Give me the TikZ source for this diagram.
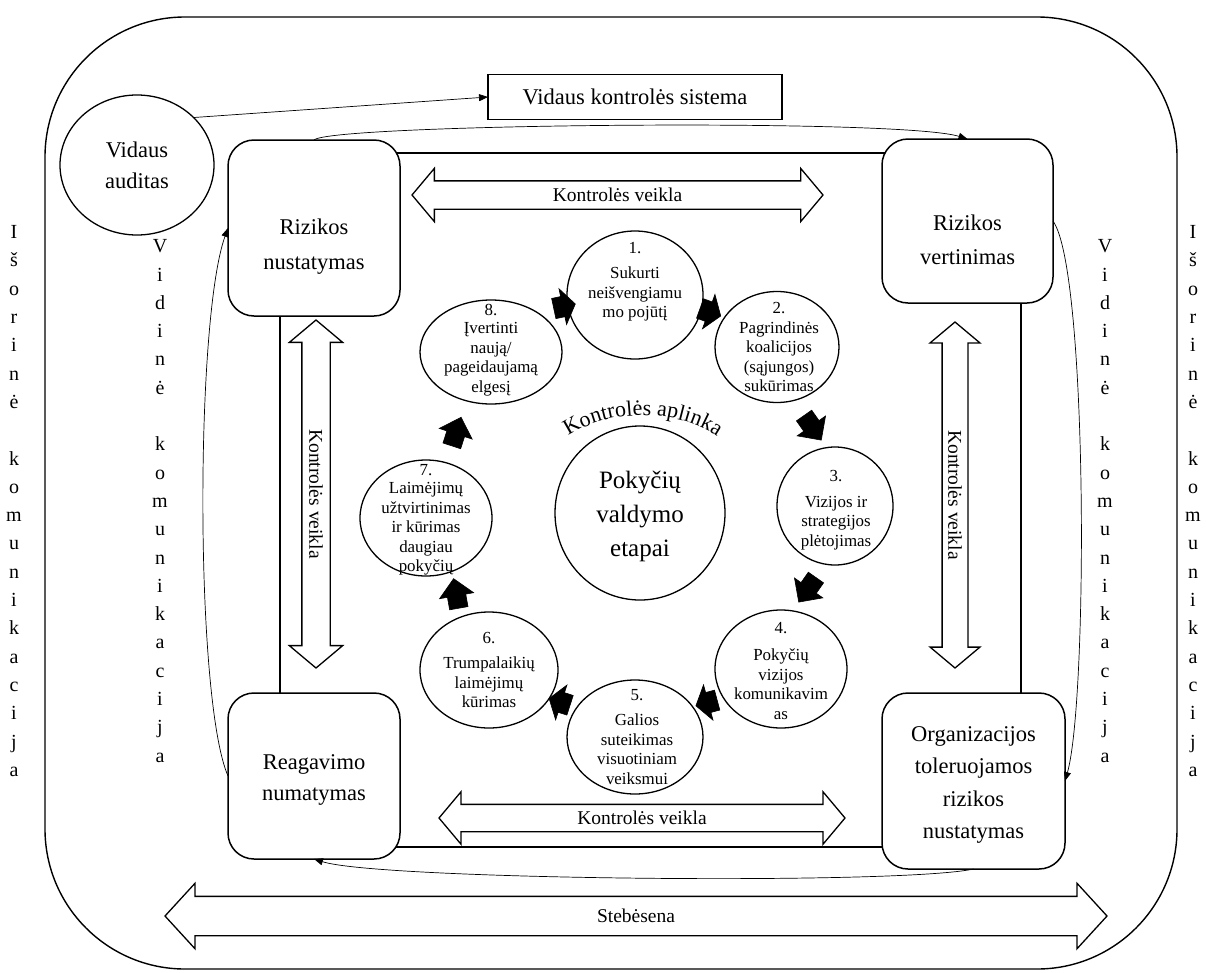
\documentclass[tikz,border=0pt]{standalone}
\usepackage{fontspec}
\setmainfont{Liberation Serif}
\usetikzlibrary{shapes.geometric,shapes.arrows,arrows.meta,decorations.text}

\begin{document}
\begin{tikzpicture}[x=1pt, y=-1pt,
  every node/.style={inner sep=0pt, outer sep=0pt},
  frame/.style={line width=1.4pt},
  riskbox/.style={draw, line width=1.5pt, rounded corners=26pt, fill=white},
  boxtext/.style={align=center, font=\fontsize{22.5}{31}\selectfont},
  stage/.style={draw, ellipse, line width=1.3pt, fill=white},
  stagetext/.style={align=center, font=\fontsize{16.9}{19.5}\selectfont},
  flowlong/.style={single arrow, draw=black, fill=black, line width=0.6pt,
    inner xsep=0pt, inner ysep=9pt, minimum height=30pt,
    single arrow head extend=8pt, single arrow tip angle=90},
  flowshort/.style={single arrow, draw=black, fill=black, line width=0.6pt,
    inner xsep=0pt, inner ysep=10pt, minimum height=22pt,
    single arrow head extend=8pt, single arrow tip angle=110},
  twoway/.style={double arrow, draw, line width=1.3pt, fill=white,
    text height=13.5pt, text depth=0pt, inner xsep=0pt, inner ysep=6.75pt,
    double arrow head extend=12.5pt, double arrow tip angle=100,
    font=\fontsize{19.5}{22}\selectfont},
  link/.style={line width=0.7pt, -{Triangle[length=9pt,width=7pt]}},
  column/.style={align=center, font=\fontsize{20}{28.3}\selectfont},
]
\useasboundingbox (0,0) rectangle (1206,972);

% outer frame and the frame joining the four risk boxes
\draw[frame, rounded corners=140pt] (45,17) rectangle (1177,969);
\draw[frame] (280,153) rectangle (1021,847);

% monitoring arrow
\node[twoway, minimum height=942pt, inner ysep=12.25pt,
  double arrow head extend=13pt, double arrow tip angle=95] (steb) at (636,916) {Stebėsena};

% control activity arrows
\node[twoway, minimum height=411pt] (kvtop) at (617.5,195) {Kontrolės veikla};
\node[twoway, minimum height=406pt, inner ysep=6.25pt] (kvbot) at (642,818) {Kontrolės veikla};
\node[twoway, minimum height=348pt, rotate=-90] (kvleft) at (316,494) {Kontrolės veikla};
\node[twoway, minimum height=346pt, inner ysep=5.5pt, double arrow head extend=12pt,
  rotate=-90] (kvright) at (955,495) {Kontrolės veikla};

% risk management boxes
\node[riskbox, minimum width=172pt, minimum height=176pt] (rn) at (314,228) {};
\node[boxtext, font=\fontsize{22.5}{35}\selectfont] (rnt) at (314,247) {Rizikos\\nustatymas};
\node[riskbox, minimum width=171pt, minimum height=164pt] (rv) at (967.5,221) {};
\node[boxtext, font=\fontsize{22.5}{34}\selectfont] (rvt) at (967.5,240) {Rizikos\\vertinimas};
\node[riskbox, minimum width=172pt, minimum height=166pt] (rev) at (314,776) {};
\node[boxtext] (revt) at (314,780) {Reagavimo\\numatymas};
\node[riskbox, minimum width=183pt, minimum height=176pt] (org) at (973.5,781) {};
\node[boxtext, font=\fontsize{22.5}{32.5}\selectfont] (orgt) at (973.5,785) {Organizacijos\\toleruojamos\\rizikos\\nustatymas};

% internal audit and the control system
\node[stage, minimum width=154pt, minimum height=140pt] (va) at (137,165) {};
\node[boxtext] (vat) at (137,165) {Vidaus\\auditas};
\node[draw, line width=1.3pt, minimum width=294pt, minimum height=45pt,
  font=\fontsize{22.5}{27}\selectfont] (vks) at (635,97) {Vidaus kontrolės sistema};

% communication columns
\node[column] (isl) at (14,501) {I\\š\\o\\r\\i\\n\\ė\\[28.3pt]k\\o\\m\\u\\n\\i\\k\\a\\c\\i\\j\\a};
\node[column] (isr) at (1193,501) {I\\š\\o\\r\\i\\n\\ė\\[28.3pt]k\\o\\m\\u\\n\\i\\k\\a\\c\\i\\j\\a};
\node[column] (vdl) at (160,501) {V\\i\\d\\i\\n\\ė\\[28.3pt]k\\o\\m\\u\\n\\i\\k\\a\\c\\i\\j\\a};
\node[column] (vdr) at (1105,501) {V\\i\\d\\i\\n\\ė\\[28.3pt]k\\o\\m\\u\\n\\i\\k\\a\\c\\i\\j\\a};

% thin links
\draw[link] (va.40) -- (vks.west);
\draw[link] (rn.north) .. controls (330,124) and (900,118) .. (rv.north);
\draw[link] (rv.east) .. controls (1088,270) and (1088,700) .. (org.east);
\draw[link] (org.south) .. controls (900,885) and (380,880) .. (rev.south);
\draw[link] (rev.west) .. controls (195,700) and (195,320) .. (rn.west);

% change management stages
\node[stage, minimum width=170pt, minimum height=174pt] (core) at (640,513) {};
\node[align=center, font=\fontsize{25}{34}\selectfont] (coret) at (640,516) {Pokyčių\\valdymo\\etapai};

\node[stage, minimum width=136pt, minimum height=128pt] (s1) at (635,295) {};
\node[stage, minimum width=124pt, minimum height=111pt] (s2) at (777,347) {};
\node[stage, minimum width=116pt, minimum height=118pt] (s3) at (835,506) {};
\node[stage, minimum width=132pt, minimum height=118pt] (s4) at (781,669) {};
\node[stage, minimum width=136pt, minimum height=114pt] (s5) at (635,737) {};
\node[stage, minimum width=138pt, minimum height=116pt] (s6) at (489,670) {};
\node[stage, minimum width=132pt, minimum height=116pt] (s7) at (426,518) {};
\node[stage, minimum width=142pt, minimum height=104pt] (s8) at (491,352) {};

\node[stagetext] (s1t) at (635,282) {1.\\[5.5pt]Sukurti\\neišvengiamu\\mo pojūtį};
\node[stagetext] (s2t) at (779,347) {2.\\[0.5pt]Pagrindinės\\koalicijos\\(sąjungos)\\sukūrimas};
\node[stagetext] (s3t) at (836,510) {3.\\[6.5pt]Vizijos ir\\strategijos\\plėtojimas};
\node[stagetext] (s4t) at (781,671) {4.\\[7.5pt]Pokyčių\\vizijos\\komunikavim\\as};
\node[stagetext] (s5t) at (637,737) {5.\\[5.5pt]Galios\\suteikimas\\visuotiniam\\veiksmui};
\node[stagetext] (s6t) at (489,670) {6.\\[5.5pt]Trumpalaikių\\laimėjimų\\kūrimas};
\node[stagetext] (s7t) at (426,520) {7.\\[-1pt]Laimėjimų\\užtvirtinimas\\ir kūrimas\\daugiau\\pokyčių};
\node[stagetext] (s8t) at (491,350) {8.\\[-1pt]Įvertinti\\naują/\\pageidaujamą\\elgesį};

% flow arrows between the stages
\node[flowshort, rotate=12] (a81) at (561,307) {};
\node[flowshort, rotate=-20] (a12) at (707,311) {};
\node[flowlong, rotate=-55] (a23) at (810,424) {};
\node[flowlong, rotate=-125] (a34) at (810,586) {};
\node[flowshort, rotate=195] (a45) at (710,702) {};
\node[flowshort, rotate=162] (a56) at (563,703) {};
\node[flowlong, rotate=100] (a67) at (457,598) {};
\node[flowlong, rotate=72] (a78) at (455,436) {};

% control environment caption along an arc
\path[decorate, decoration={text along path, text align=center,
  text={|\fontsize{22}{22}\selectfont|Kontrolės aplinka}}]
  (546,458) .. controls (585,401) and (700,401) .. (740,458);
\end{tikzpicture}
\end{document}
